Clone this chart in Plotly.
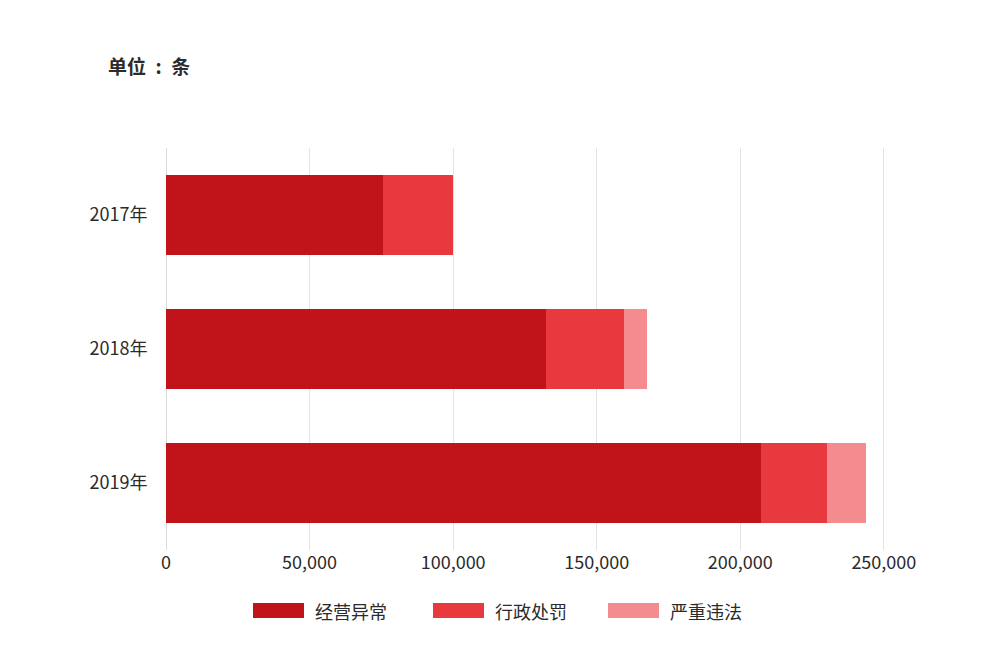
import plotly.graph_objects as go

# data (unit: 条)
years = ["2017年", "2018年", "2019年"]
names = ["经营异常", "行政处罚", "严重违法"]
abnormal = [75500, 132500, 207200]
penalty = [24600, 27100, 23000]
illegal = [0, 8000, 13500]
colors = ["#C0131A", "#E8393E", "#F48B8E"]
xticks = [0, 50000, 100000, 150000, 200000, 250000]

FONT = "Noto Sans CJK SC"

fig = go.Figure()
for name, vals, col in zip(names, [abnormal, penalty, illegal], colors):
    fig.add_trace(go.Bar(y=years, x=vals, name=name, orientation="h",
                         marker=dict(color=col, line=dict(width=0)),
                         showlegend=False))

# page puts the figure 8px in from the top-left corner, so work in screen px
OFF = 8
W, H = 1000, 654
L, R, T, B = 166 - OFF, 885 - OFF, 148 - OFF, 550 - OFF


def px(x):
    return (x - OFF - L) / (R - L)


def py(y):
    return (B - (y - OFF)) / (B - T)


# hand-made legend with wide swatches like the original
legend_x = [253, 433, 608]
for name, col, lx in zip(names, colors, legend_x):
    fig.add_shape(type="rect", xref="paper", yref="paper",
                  x0=px(lx), x1=px(lx + 51), y0=py(618), y1=py(603),
                  fillcolor=col, line=dict(width=0))
    fig.add_annotation(text=name, xref="paper", yref="paper",
                       x=px(lx + 60), y=py(611), xanchor="left", yanchor="middle",
                       showarrow=False, font=dict(size=18, color="#2b2b2b", family=FONT))

fig.add_annotation(text="<b>单位\u2002:\u2002条</b>", xref="paper", yref="paper",
                   x=px(106), y=py(66), xanchor="left", yanchor="middle",
                   showarrow=False, font=dict(size=19, color="#2b2b2b", family=FONT))

fig.update_layout(
    barmode="stack",
    bargap=0.4,
    width=W, height=H,
    margin=dict(l=L, r=W - R, t=T, b=H - B),
    paper_bgcolor="white",
    plot_bgcolor="white",
    font=dict(family=FONT, size=18, color="#2b2b2b"),
)
fig.update_xaxes(range=[0, 250400], tickvals=xticks, tickformat=",d",
                 showgrid=True, gridcolor="#E3E3E3", gridwidth=1,
                 zeroline=True, zerolinecolor="#DADADA", zerolinewidth=1,
                 showline=False, ticks="",
                 tickfont=dict(size=18, color="#2b2b2b"))
fig.update_yaxes(autorange="reversed", showgrid=False, showline=False,
                 ticks="outside", ticklen=14, tickcolor="rgba(0,0,0,0)",
                 tickfont=dict(size=18, color="#2b2b2b"))

fig.write_html("out.html")
